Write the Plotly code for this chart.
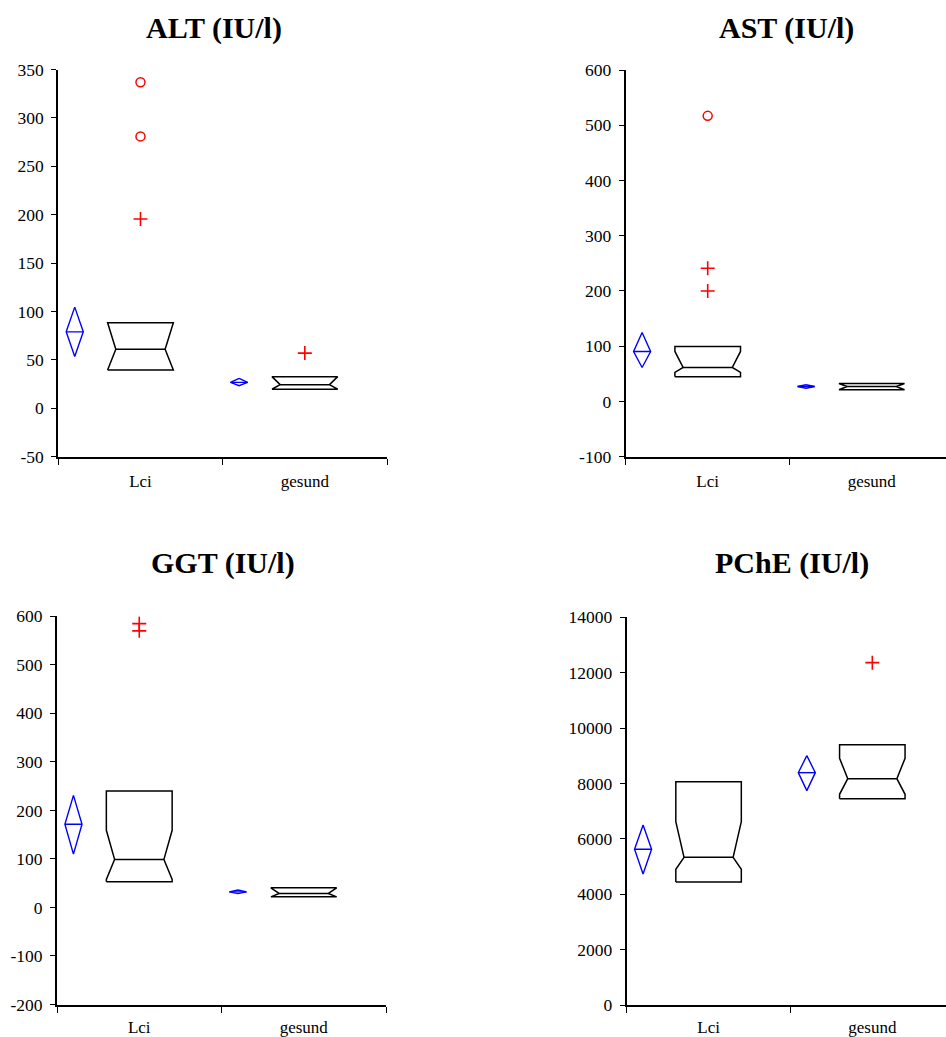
import plotly.graph_objects as go

# ---------------------------------------------------------------------------
# Data
# ---------------------------------------------------------------------------
groups = ["Lci", "gesund"]

# ALT (IU/l)
alt_mean = [79.0, 26.8]
alt_ci_low = [53.5, 23.3]
alt_ci_high = [104.5, 31.0]
alt_q1 = [39.6, 19.7]
alt_median = [61.0, 24.4]
alt_q3 = [88.3, 32.7]
alt_notch_low = [39.6, 19.7]
alt_notch_high = [88.3, 32.7]
alt_outside = [[195.6], [57.0]]
alt_far_out = [[280.9, 336.8], []]

# AST (IU/l)
ast_mean = [90.5, 27.1]
ast_ci_low = [61.5, 24.0]
ast_ci_high = [124.8, 30.2]
ast_q1 = [44.7, 21.2]
ast_median = [61.5, 27.1]
ast_q3 = [99.5, 32.6]
ast_notch_low = [52.5, 21.2]
ast_notch_high = [90.5, 32.6]
ast_outside = [[200.0, 241.0], []]
ast_far_out = [[517.0], []]

# GGT (IU/l)
ggt_mean = [171.6, 32.1]
ggt_ci_low = [109.8, 28.5]
ggt_ci_high = [231.0, 36.0]
ggt_q1 = [52.8, 21.9]
ggt_median = [99.0, 28.8]
ggt_q3 = [240.0, 40.4]
ggt_notch_low = [57.7, 21.9]
ggt_notch_high = [159.0, 40.4]
ggt_outside = [[570.0, 585.0], []]
ggt_far_out = [[], []]

# PChE (IU/l)
pche_mean = [5622.0, 8390.0]
pche_ci_low = [4730.0, 7740.0]
pche_ci_high = [6500.0, 9003.0]
pche_q1 = [4442.0, 7450.0]
pche_median = [5333.0, 8173.0]
pche_q3 = [8065.0, 9400.0]
pche_notch_low = [4900.0, 7609.0]
pche_notch_high = [6620.0, 8909.0]
pche_outside = [[], [12362.0]]
pche_far_out = [[], []]

titles = ["ALT (IU/l)", "AST (IU/l)", "GGT (IU/l)", "PChE (IU/l)"]
y_ticks = [
    list(range(-50, 351, 50)),
    list(range(-100, 601, 100)),
    list(range(-200, 601, 100)),
    list(range(0, 14001, 2000)),
]

# ---------------------------------------------------------------------------
# Layout geometry (pixels of the 946 x 1037 page)
# ---------------------------------------------------------------------------
W, H = 946, 1037
FONT = "'Times New Roman', Times, 'Liberation Serif', Tinos, 'DejaVu Serif', serif"

panels = [
    dict(left=58.3, right=387.0, top=69.5, bottom=456.7, xmax=1.5,
         title_x=214, title_y=28, label_gap=8),
    dict(left=625.7, right=946.0, top=70.0, bottom=456.7, xmax=1.453,
         title_x=786, title_y=28, label_gap=8),
    dict(left=57.0, right=386.0, top=616.3, bottom=1004.5, xmax=1.5,
         title_x=223, title_y=563, label_gap=6),
    dict(left=626.7, right=946.0, top=617.3, bottom=1005.0, xmax=1.45,
         title_x=792, title_y=563, label_gap=6),
]

series = [
    (alt_mean, alt_ci_low, alt_ci_high, alt_q1, alt_median, alt_q3,
     alt_notch_low, alt_notch_high, alt_outside, alt_far_out),
    (ast_mean, ast_ci_low, ast_ci_high, ast_q1, ast_median, ast_q3,
     ast_notch_low, ast_notch_high, ast_outside, ast_far_out),
    (ggt_mean, ggt_ci_low, ggt_ci_high, ggt_q1, ggt_median, ggt_q3,
     ggt_notch_low, ggt_notch_high, ggt_outside, ggt_far_out),
    (pche_mean, pche_ci_low, pche_ci_high, pche_q1, pche_median, pche_q3,
     pche_notch_low, pche_notch_high, pche_outside, pche_far_out),
]

DIAMOND_SHIFT = 0.4   # mean diamond sits left of its box
DIAMOND_HALF = 0.052
BOX_HALF = 0.2
NOTCH_IN = 0.05
RED = "#ff0000"

fig = go.Figure()

for p, (spec, data, ticks) in enumerate(zip(panels, series, y_ticks), start=1):
    mean, ci_lo, ci_hi, q1, med, q3, n_lo, n_hi, outside, far = data
    xa = "x" if p == 1 else f"x{p}"
    ya = "y" if p == 1 else f"y{p}"

    for i, _ in enumerate(groups):
        c = float(i)
        d = c - DIAMOND_SHIFT
        # confidence diamond with mean line
        fig.add_trace(go.Scatter(
            x=[d, d + DIAMOND_HALF, d, d - DIAMOND_HALF, d, None,
               d - DIAMOND_HALF, d + DIAMOND_HALF],
            y=[ci_hi[i], mean[i], ci_lo[i], mean[i], ci_hi[i], None,
               mean[i], mean[i]],
            mode="lines", line=dict(color="#0000ff", width=1.4),
            xaxis=xa, yaxis=ya, showlegend=False, hoverinfo="skip"))

        # notched box (notch limits clipped to the quartiles)
        a = max(n_lo[i], q1[i])
        b = min(n_hi[i], q3[i])
        L, R = c - BOX_HALF, c + BOX_HALF
        fig.add_trace(go.Scatter(
            x=[L, L, L + NOTCH_IN, L, L, R, R, R - NOTCH_IN, R, R, L, None,
               L + NOTCH_IN, R - NOTCH_IN],
            y=[q1[i], a, med[i], b, q3[i], q3[i], b, med[i], a, q1[i], q1[i],
               None, med[i], med[i]],
            mode="lines", line=dict(color="black", width=1.5),
            xaxis=xa, yaxis=ya, showlegend=False, hoverinfo="skip"))

        if outside[i]:
            fig.add_trace(go.Scatter(
                x=[c] * len(outside[i]), y=outside[i], mode="markers",
                marker=dict(symbol="cross-thin-open", size=10, color=RED,
                            line=dict(color=RED, width=1.6)),
                xaxis=xa, yaxis=ya, showlegend=False, hoverinfo="skip"))
        if far[i]:
            fig.add_trace(go.Scatter(
                x=[c] * len(far[i]), y=far[i], mode="markers",
                marker=dict(symbol="circle-open", size=9, color=RED,
                            line=dict(color=RED, width=1.5)),
                xaxis=xa, yaxis=ya, showlegend=False, hoverinfo="skip"))

    xkey = "xaxis" if p == 1 else f"xaxis{p}"
    ykey = "yaxis" if p == 1 else f"yaxis{p}"
    fig.update_layout({
        xkey: dict(
            domain=[spec["left"] / W, spec["right"] / W],
            anchor=ya, range=[-0.5, spec["xmax"]],
            tickvals=[0, 1], ticktext=groups,
            ticks="outside", ticklen=spec["label_gap"],
            tickcolor="rgba(0,0,0,0)",
            tickfont=dict(family=FONT, size=17, color="black"),
            minor=dict(tickvals=[-0.5, 0.5, 1.5], ticks="outside",
                       ticklen=6, tickwidth=1.2, tickcolor="black"),
            showline=True, linecolor="black", linewidth=2,
            showgrid=False, zeroline=False, fixedrange=True,
        ),
        ykey: dict(
            domain=[1 - spec["bottom"] / H, 1 - spec["top"] / H],
            anchor=xa, range=[ticks[0], ticks[-1]],
            tickvals=ticks, ticktext=[str(t) for t in ticks],
            ticks="outside", ticklen=5, tickwidth=1.2, tickcolor="black",
            tickfont=dict(family=FONT, size=17.5, color="black"),
            ticklabelstandoff=4,
            showline=True, linecolor="black", linewidth=2,
            showgrid=False, zeroline=False, fixedrange=True,
        ),
    })
    fig.add_annotation(
        text=f"<b>{titles[p - 1]}</b>", xref="paper", yref="paper",
        x=spec["title_x"] / W, y=1 - spec["title_y"] / H,
        xanchor="center", yanchor="middle", showarrow=False,
        font=dict(family=FONT, size=30, color="black"))

fig.update_layout(
    width=W, height=H,
    margin=dict(l=0, r=0, t=0, b=0, autoexpand=False),
    paper_bgcolor="white", plot_bgcolor="white",
    font=dict(family=FONT),
    showlegend=False,
)

fig.write_html("out.html")
